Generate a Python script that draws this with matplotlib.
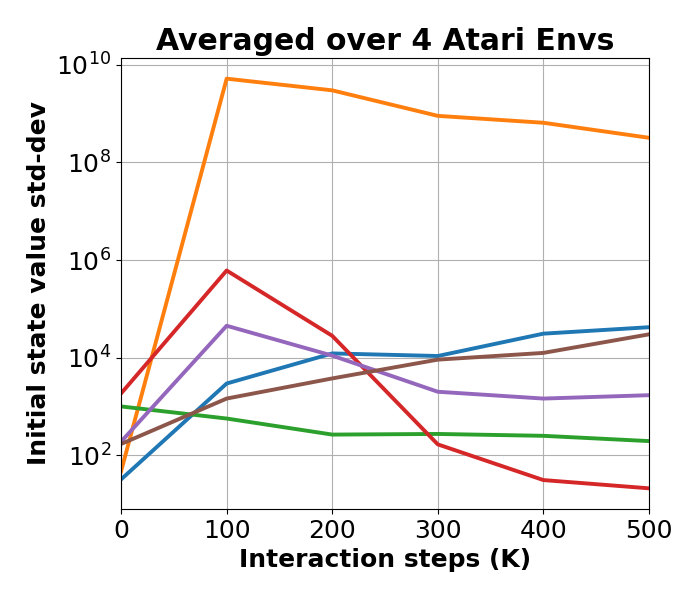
import numpy as np
import matplotlib.pyplot as plt

steps = [0, 100, 200, 300, 400, 500]

# initial state value std-dev, one list per run
blue = [32, 2950, 12200, 10800, 31000, 42000]
orange = [47, 5.2e9, 3.0e9, 9.0e8, 6.5e8, 3.2e8]
green = [1000, 565, 265, 273, 250, 195]
red = [1850, 6.1e5, 2.8e4, 167, 31, 21]
purple = [190, 4.5e4, 1.1e4, 2000, 1450, 1700]
brown = [170, 1450, 3750, 9100, 12500, 30000]

series = [blue, orange, green, red, purple, brown]

fig, ax = plt.subplots(figsize=(7, 6), dpi=100)
fig.subplots_adjust(left=0.173, right=0.927, top=0.903, bottom=0.152)

for s in series:
    ax.plot(steps, s, linewidth=2.8)

ax.set_yscale('log')
ax.set_xlim(0, 500)
ax.grid(True)
ax.tick_params(labelsize=18)
ax.set_xlabel('Interaction steps (K)', fontsize=18, fontweight='bold')
ax.set_ylabel('Initial state value std-dev', fontsize=18, fontweight='bold')
ax.set_title('Averaged over 4 Atari Envs', fontsize=21.5, fontweight='bold')

plt.savefig('out.png')
